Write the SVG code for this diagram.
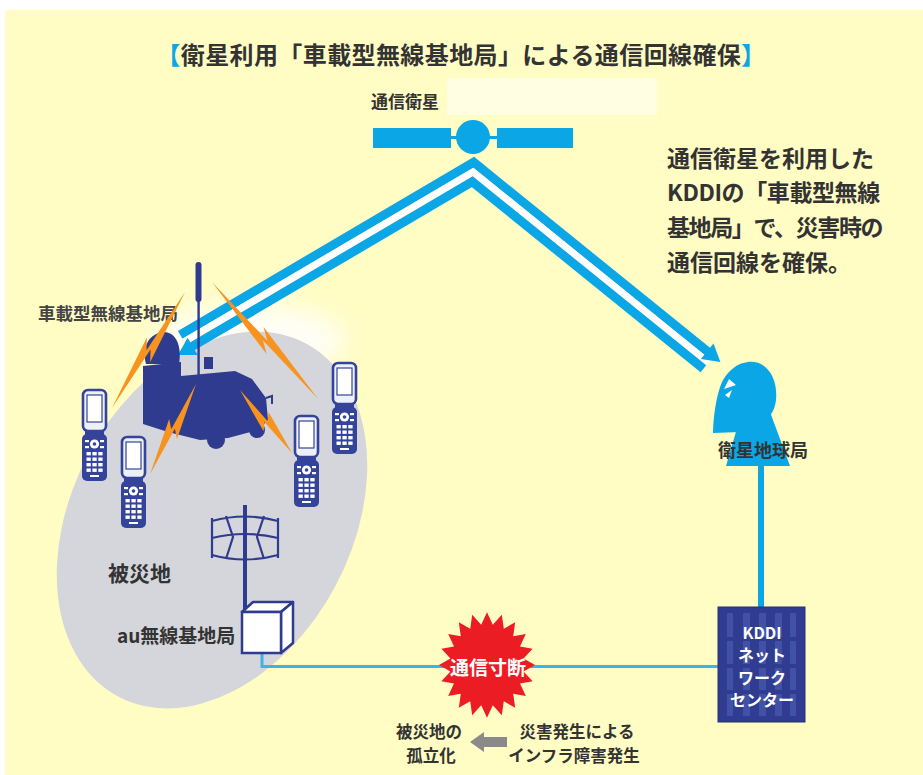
<svg xmlns="http://www.w3.org/2000/svg" width="923" height="775" viewBox="0 0 923 775">
  <defs>
    <style>
      .jp { font-family: "Noto Sans CJK JP", "Noto Sans", sans-serif; font-weight: 700; }
      .dark { fill: #333333; }
      .navy { fill: #2e3b8e; }
      .cyan { fill: #0aa6e6; }
      .bolt { fill: #f7931e; }
      .beam { fill: none; stroke: #0aa6e6; stroke-width: 9; stroke-linejoin: miter; stroke-miterlimit: 10; }
      .beam-gap { fill: none; stroke: #ffffff; stroke-width: 7; stroke-linejoin: miter; stroke-miterlimit: 10; }
      .wire { fill: none; stroke: #2e3b8e; stroke-width: 2.2; }
      .key { fill: #ffffff; }
    </style>
    <filter id="soft" x="-50%" y="-50%" width="200%" height="200%">
      <feGaussianBlur stdDeviation="12"/>
    </filter>
    <!-- flip phone, local 25 x 92 -->
    <g id="phone">
      <rect x="1" y="1" width="23" height="41" rx="5" fill="#eef0f8" stroke="#34449a" stroke-width="2.6"/>
      <rect x="5" y="6" width="15" height="27" fill="#ffffff" stroke="#34449a" stroke-width="1.2"/>
      <rect x="3" y="41" width="19" height="5" fill="#34449a"/>
      <rect x="0" y="45" width="25" height="47" rx="5" fill="#34449a"/>
      <circle cx="12.5" cy="55" r="4.6" fill="#ffffff"/>
      <circle cx="12.5" cy="55" r="1.8" fill="#34449a"/>
      <rect class="key" x="3" y="51" width="4" height="2.2"/>
      <rect class="key" x="18" y="51" width="4" height="2.2"/>
      <rect class="key" x="3" y="57" width="4" height="2.2"/>
      <rect class="key" x="18" y="57" width="4" height="2.2"/>
      <g class="key">
        <rect x="4.5" y="63" width="4.3" height="3.4"/><rect x="10.4" y="63" width="4.3" height="3.4"/><rect x="16.3" y="63" width="4.3" height="3.4"/>
        <rect x="4.5" y="68.5" width="4.3" height="3.4"/><rect x="10.4" y="68.5" width="4.3" height="3.4"/><rect x="16.3" y="68.5" width="4.3" height="3.4"/>
        <rect x="4.5" y="74" width="4.3" height="3.4"/><rect x="10.4" y="74" width="4.3" height="3.4"/><rect x="16.3" y="74" width="4.3" height="3.4"/>
        <rect x="4.5" y="79.5" width="4.3" height="3.4"/><rect x="10.4" y="79.5" width="4.3" height="3.4"/><rect x="16.3" y="79.5" width="4.3" height="3.4"/>
      </g>
      <rect x="8" y="86" width="9" height="2" fill="#ffffff"/>
    </g>
    <!-- lightning bolt along +x, length 100 -->
    <polygon id="flash" points="0,0 57,-8 49,-1.5 100,0 43,8 51,1.5"/>
  </defs>

  <!-- background -->
  <rect x="0" y="0" width="923" height="775" fill="#ffffff"/>
  <rect x="5" y="10" width="918" height="765" fill="#fffcc4"/>
  <rect x="447" y="78" width="210" height="37" fill="#fffee3"/>

  <!-- title -->
  <g id="title">
    <text class="jp dark" x="461" y="64" font-size="24" text-anchor="middle" letter-spacing="0.4"><tspan fill="#0aa6e6">【</tspan>衛星利用「車載型無線基地局」による通信回線確保<tspan fill="#0aa6e6">】</tspan></text>
  </g>

  <!-- disaster area -->
  <g id="disaster-area">
    <ellipse cx="250" cy="340" rx="95" ry="36" fill="#ffffff" opacity="0.85" filter="url(#soft)"/>
    <ellipse cx="212" cy="520" rx="200" ry="140" transform="rotate(-62 212 520)" fill="#d5d5dc"/>
    <text class="jp dark" x="108" y="581" font-size="21">被災地</text>
  </g>

  <!-- connectors -->
  <g id="connectors">
    <!-- radio links via satellite -->
    <polyline class="beam" points="180.2,334.9 473.7,162.3 708.8,352.6"/>
    <polyline class="beam-gap" points="184.2,341.8 473,172 708.4,362.6"/>
    <polyline class="beam" points="190.1,347.7 472.3,181.7 703.4,368.8"/>
    <polygon class="cyan" points="0,0 -17,-10 -17,10" transform="translate(178,355) rotate(149.5)"/>
    <polygon class="cyan" points="0,0 -17,-10 -17,10" transform="translate(720.4,362) rotate(39)"/>
    <!-- ground links -->
    <polyline points="262,652 262,666.5 718,666.5" fill="none" stroke="#3db3e8" stroke-width="3"/>
    <rect x="758" y="462" width="6" height="146" fill="#0aa6e6"/>
    <!-- consequence arrow -->
    <polygon points="470,742 484,732 484,737 507,737 507,747 484,747 484,752" fill="#8a8a8a"/>
  </g>

  <!-- communication satellite -->
  <g id="satellite">
    <text class="jp dark" x="371" y="107.5" font-size="17">通信衛星</text>
    <rect class="cyan" x="373" y="128" width="78" height="20"/>
    <rect class="cyan" x="449" y="136" width="10" height="3"/>
    <circle class="cyan" cx="473" cy="137" r="17"/>
    <rect class="cyan" x="488" y="136" width="10" height="3"/>
    <rect class="cyan" x="497" y="128" width="76" height="20"/>
  </g>

  <!-- vehicle-mounted base station -->
  <g id="mobile-station">
    <text class="jp" fill="#444444" x="38" y="320" font-size="17.5">車載型無線基地局</text>
    <rect class="navy" x="195.5" y="262" width="6" height="40" rx="3"/>
    <rect class="navy" x="197.4" y="298" width="2.4" height="78"/>
    <path class="navy" d="M146,364 C141,346 150,333 164,332 C176,332 182,346 179,364 Z"/>
    <path class="navy" d="M143,366 L181,362 L181,376 L235,371 L252,379 L266,398 L268,420 L258,430 L228,438 L200,440 L168,432 L143,424 Z"/>
    <rect class="navy" x="204" y="357" width="9" height="12"/>
    <path d="M266,398 L272,396 L272,404" fill="none" stroke="#2e3b8e" stroke-width="2"/>
    <circle class="navy" cx="216" cy="440" r="9"/>
    <circle class="navy" cx="257" cy="430" r="8"/>
    <g class="bolt">
      <use href="#flash" transform="translate(185,292) rotate(122.2) scale(1.37,1)"/>
      <use href="#flash" transform="translate(212,282) rotate(47.8) scale(1.58,-1)"/>
      <use href="#flash" transform="translate(196,384) rotate(117) scale(1.01,1)"/>
      <use href="#flash" transform="translate(240,390) rotate(50.5) scale(0.82,-1)"/>
    </g>
  </g>

  <!-- handsets -->
  <g id="phone-1"><use href="#phone" transform="translate(82,389)"/></g>
  <g id="phone-2"><use href="#phone" transform="translate(121,436)"/></g>
  <g id="phone-3"><use href="#phone" transform="translate(294,415)"/></g>
  <g id="phone-4"><use href="#phone" transform="translate(332,362)"/></g>

  <!-- au base station -->
  <g id="au-station">
    <rect class="navy" x="243" y="505" width="4" height="108"/>
    <path class="wire" d="M212,521 Q245,512 278,521 M212,538 Q245,530 278,538 M212,555 Q245,564 278,555 M212,518 V558 M278,518 V558 M226,516 L233,537 L226,559 M264,516 L257,537 L264,559"/>
    <polygon points="242,612 253,602 293,602 281,612" fill="#ffffff" stroke="#2e3b8e" stroke-width="2.5" stroke-linejoin="round"/>
    <polygon points="281,612 293,602 293,643 281,653" fill="#ffffff" stroke="#2e3b8e" stroke-width="2.5" stroke-linejoin="round"/>
    <rect x="242" y="612" width="39" height="41" fill="#ffffff" stroke="#2e3b8e" stroke-width="2.5"/>
    <text class="jp dark" x="117" y="643" font-size="19">au無線基地局</text>
  </g>

  <!-- satellite earth station -->
  <g id="earth-station">
    <path class="cyan" d="M740,418 L770,412 L790,466 L726,466 Z"/>
    <path class="cyan" d="M748,362 C768,360 778,380 776,400 C774,418 760,428 740,432 L713,433 C713,420 716,395 722,382 C728,370 738,363 748,362 Z"/>
    <polygon points="724,389 729,379 736,385" fill="#ffffff"/>
    <polygon points="725,395 732,390 729,398" fill="#ffffff"/>
    <text class="jp dark" x="718" y="457" font-size="18">衛星地球局</text>
  </g>

  <!-- KDDI network center -->
  <g id="kddi-center">
    <rect x="718" y="607" width="87" height="115" fill="#2f3c8f" stroke="#26307a" stroke-width="1"/>
    <g fill="#4151a5">
      <rect x="727" y="613" width="6" height="24"/><rect x="743" y="613" width="7" height="24"/><rect x="759" y="613" width="7" height="24"/><rect x="775" y="613" width="7" height="24"/><rect x="790" y="613" width="6" height="24"/>
      <rect x="727" y="641" width="6" height="23"/><rect x="743" y="641" width="7" height="23"/><rect x="759" y="641" width="7" height="23"/><rect x="775" y="641" width="7" height="23"/><rect x="790" y="641" width="6" height="23"/>
      <rect x="727" y="668" width="6" height="22"/><rect x="743" y="668" width="7" height="22"/><rect x="759" y="668" width="7" height="22"/><rect x="775" y="668" width="7" height="22"/><rect x="790" y="668" width="6" height="22"/>
      <rect x="727" y="694" width="6" height="22"/><rect x="743" y="694" width="7" height="22"/><rect x="759" y="694" width="7" height="22"/><rect x="775" y="694" width="7" height="22"/><rect x="790" y="694" width="6" height="22"/>
    </g>
    <g class="jp" fill="#ffffff" font-size="16" text-anchor="middle">
      <text x="762" y="639">KDDI</text>
      <text x="762" y="661">ネット</text>
      <text x="762" y="684">ワーク</text>
      <text x="762" y="706">センター</text>
    </g>
  </g>

  <!-- link outage -->
  <g id="outage">
    <polygon fill="#ec1c24" transform="translate(487,665) scale(1,1.1)" points="0,-48 5.8,-36.6 14.8,-45.6 16.8,-33 28.2,-38.8 26.2,-26.2 38.8,-28.2 33,-16.8 45.6,-14.8 36.6,-5.8 48,0 36.6,5.8 45.6,14.8 33,16.8 38.8,28.2 26.2,26.2 28.2,38.8 16.8,33 14.8,45.6 5.8,36.6 0,48 -5.8,36.6 -14.8,45.6 -16.8,33 -28.2,38.8 -26.2,26.2 -38.8,28.2 -33,16.8 -45.6,14.8 -36.6,5.8 -48,0 -36.6,-5.8 -45.6,-14.8 -33,-16.8 -38.8,-28.2 -26.2,-26.2 -28.2,-38.8 -16.8,-33 -14.8,-45.6 -5.8,-36.6"/>
    <text class="jp" fill="#ffffff" x="488" y="675" font-size="19" text-anchor="middle">通信寸断</text>
  </g>

  <!-- captions -->
  <g id="caption-isolation" class="jp dark" font-size="16.5" text-anchor="middle">
    <text x="429" y="738">被災地の</text>
    <text x="431" y="762">孤立化</text>
  </g>
  <g id="caption-cause" class="jp dark" font-size="16.5" text-anchor="middle">
    <text x="577" y="738">災害発生による</text>
    <text x="574" y="762">インフラ障害発生</text>
  </g>
  <g id="summary" class="jp dark" font-size="23">
    <text x="667" y="167">通信衛星を利用した</text>
    <text x="667" y="201" letter-spacing="-0.4">KDDIの「車載型無線</text>
    <text x="667" y="236" letter-spacing="-1.4">基地局」で、災害時の</text>
    <text x="667" y="271">通信回線を確保。</text>
  </g>
</svg>
